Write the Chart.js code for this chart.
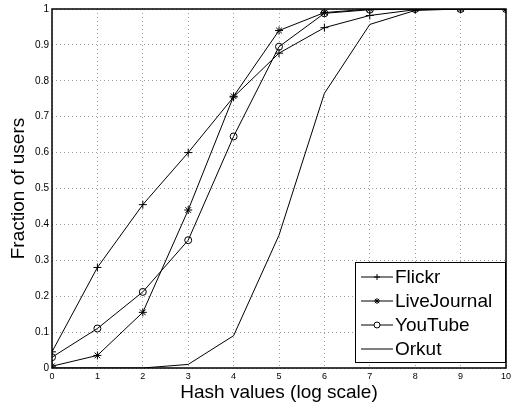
<!DOCTYPE html>
<html>
<head>
<meta charset="utf-8">
<script src="https://cdn.jsdelivr.net/npm/chart.js@4"></script>
<style>
  html, body { margin: 0; padding: 0; background: #fff; }
  #wrap { width: 511px; height: 411px; }
</style>
</head>
<body>
<div id="wrap"><canvas id="chart_view"></canvas></div>
<script>
// hash values on x axis (log scale buckets)
const hashValues = [0, 1, 2, 3, 4, 5, 6, 7, 8, 9, 10];
const flickr      = [0.045, 0.28, 0.455, 0.60, 0.755, 0.877, 0.948, 0.982, 0.998, 1.0, 1.0];
const liveJournal = [0.005, 0.035, 0.155, 0.44, 0.757, 0.94, 0.99, 1.0, 1.0, 1.0, 1.0];
const youTube     = [0.03, 0.11, 0.212, 0.356, 0.645, 0.895, 0.988, 0.998, 1.0, 1.0, 1.0];
const orkut       = [0.0, 0.0, 0.0, 0.01, 0.09, 0.37, 0.765, 0.957, 0.996, 1.0, 1.0];
const yTicks = [0, 0.1, 0.2, 0.3, 0.4, 0.5, 0.6, 0.7, 0.8, 0.9, 1];

const toPts = (arr) => arr.map((v, i) => ({ x: hashValues[i], y: v }));
const FONT = "'Liberation Sans', Arial, sans-serif";

function series(label, values, style, radius) {
  return {
    label: label,
    data: toPts(values),
    borderColor: '#000',
    backgroundColor: 'rgba(0,0,0,0)',
    borderWidth: 1,
    pointStyle: style,
    pointRadius: radius,
    pointBorderColor: '#000',
    pointBorderWidth: 1,
    tension: 0
  };
}

// frame + legend box inside the plot, like matlab
const framePlugin = {
  id: 'frame',
  afterDatasetsDraw(chart) {
    const ctx = chart.ctx, a = chart.chartArea;
    ctx.save();
    ctx.strokeStyle = '#000';
    ctx.lineWidth = 1.5;
    ctx.strokeRect(a.left, a.top, a.right - a.left, a.bottom - a.top);

    // legend
    const bx = 355, by = 262, bw = a.right - bx, bh = 101;
    ctx.fillStyle = '#fff';
    ctx.fillRect(bx, by, bw, bh);
    ctx.lineWidth = 1;
    ctx.strokeRect(bx + 0.5, by + 0.5, bw - 1, bh - 1);
    ctx.font = '19px ' + FONT;
    ctx.textBaseline = 'middle';
    chart.data.datasets.forEach((ds, i) => {
      const y = 277 + i * 24;
      ctx.strokeStyle = '#000';
      ctx.lineWidth = 1;
      ctx.beginPath();
      ctx.moveTo(361, y);
      ctx.lineTo(393, y);
      ctx.stroke();
      if (ds.pointRadius > 0) {
        ctx.fillStyle = '#fff';
        Chart.helpers.drawPoint(ctx, {
          pointStyle: ds.pointStyle, radius: 3, borderWidth: 1
        }, 377, y);
      }
      ctx.fillStyle = '#000';
      ctx.fillText(ds.label, 395, y + 1);
    });
    ctx.restore();
  }
};

const config = {
  type: 'line',
  data: {
    datasets: [
      series('Flickr', flickr, 'cross', 4),
      series('LiveJournal', liveJournal, 'star', 4),
      series('YouTube', youTube, 'circle', 3.5),
      series('Orkut', orkut, 'circle', 0)
    ]
  },
  options: {
    responsive: true,
    maintainAspectRatio: false,
    animation: false,
    layout: { padding: { top: 8, right: 2, left: 7, bottom: 7 } },
    plugins: {
      legend: { display: false },
      tooltip: { enabled: false }
    },
    scales: {
      x: {
        type: 'linear',
        min: 0,
        max: 10,
        ticks: {
          stepSize: 1,
          color: '#000',
          font: { family: FONT, size: 9 },
          padding: 3,
          maxRotation: 0
        },
        grid: { color: '#888', drawTicks: false, lineWidth: 0.8 },
        border: { display: false, dash: [1, 3] },
        title: {
          display: true,
          text: 'Hash values (log scale)',
          color: '#000',
          font: { family: FONT, size: 19 },
          padding: { top: 0, bottom: 0 }
        },
        afterFit(scale) {
          scale.paddingLeft = 0;
          scale.paddingRight = 0;
          scale.height = 36;
        }
      },
      y: {
        min: 0,
        max: 1,
        afterBuildTicks(scale) {
          scale.ticks = yTicks.map(v => ({ value: v }));
        },
        ticks: {
          color: '#000',
          font: { family: FONT, size: 10 },
          padding: 3,
          callback: (v) => String(v)
        },
        grid: { color: '#888', drawTicks: false, lineWidth: 0.8 },
        border: { display: false, dash: [1, 3] },
        title: {
          display: true,
          text: 'Fraction of users',
          color: '#000',
          font: { family: FONT, size: 19 },
          padding: { top: 0, bottom: 4 }
        },
        afterFit(scale) {
          scale.width = 45;
        }
      }
    }
  },
  plugins: [framePlugin]
};

var myChart = new Chart(document.getElementById('chart_view'), config);
</script>
</body>
</html>
